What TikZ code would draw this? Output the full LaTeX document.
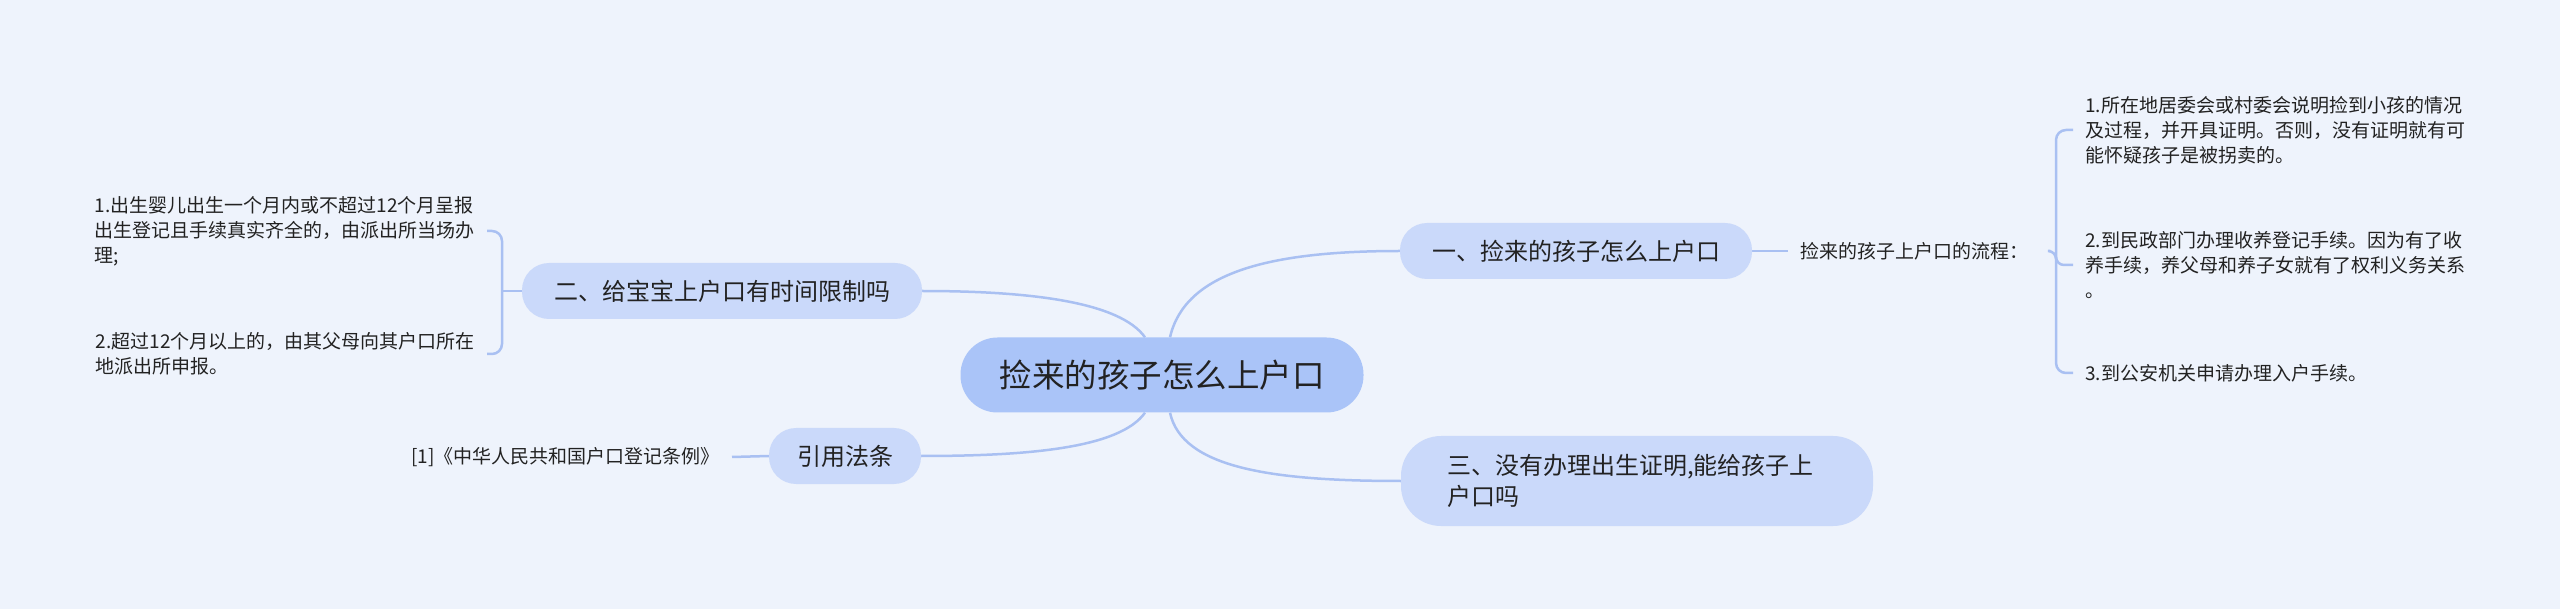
\documentclass[tikz,border=0pt]{standalone}
\usepackage{fontspec}
\setmainfont{Noto Sans CJK SC}
\usetikzlibrary{backgrounds}
\definecolor{bgc}{HTML}{EEF3FC}
\definecolor{linec}{HTML}{A9C0F2}
\definecolor{rootc}{HTML}{AAC4F8}
\definecolor{brc}{HTML}{CAD9FA}
\definecolor{txt}{HTML}{222222}
\begin{document}
\begin{tikzpicture}[x=1pt,y=-1pt,
  conn/.style={draw=linec, line width=2.5pt},
  rootbox/.style={fill=rootc, rounded corners=37pt, minimum width=403pt, minimum height=75pt, inner sep=0pt, text=txt, font=\fontsize{32.5pt}{40pt}\selectfont},
  branch/.style={fill=brc, rounded corners=27pt, minimum height=56pt, inner xsep=32pt, inner ysep=0pt, text=txt, font=\fontsize{24pt}{31pt}\selectfont},
  leaf/.style={inner xsep=12pt, inner ysep=0pt, align=left, text=txt, font=\fontsize{19pt}{25pt}\selectfont}
]
\useasboundingbox (0,0) rectangle (2560,609);
\begin{scope}[on background layer]
\fill[bgc] (0,0) rectangle (2560,609);
\end{scope}

% nodes
\node[rootbox] (root) at (1162,375) {捡来的孩子怎么上户口};
\node[branch] (b1) at (1576,251) {一、捡来的孩子怎么上户口};
\node[branch] (b2) at (722,291) {二、给宝宝上户口有时间限制吗};
\node[branch, rounded corners=40pt, minimum height=90pt, inner xsep=46pt, text width=380pt, align=left] (b3) at (1637,481) {三、没有办理出生证明,能给孩子上\\户口吗};
\node[branch, inner xsep=28pt] (b4) at (845,456) {引用法条};

\node[leaf, anchor=west] (flow) at (1788,251) {捡来的孩子上户口的流程：};
\node[leaf, anchor=west] (r1) at (2073,130) {1.所在地居委会或村委会说明捡到小孩的情况\\及过程，并开具证明。否则，没有证明就有可\\能怀疑孩子是被拐卖的。};
\node[leaf, anchor=west] (r2) at (2073,265) {2.到民政部门办理收养登记手续。因为有了收\\养手续，养父母和养子女就有了权利义务关系\\。};
\node[leaf, anchor=west] (r3) at (2073,373) {3.到公安机关申请办理入户手续。};

\node[leaf, anchor=east] (l1) at (487,231) {1.出生婴儿出生一个月内或不超过12个月呈报\\出生登记且手续真实齐全的，由派出所当场办\\理;};
\node[leaf, anchor=east] (l2) at (487,354) {2.超过12个月以上的，由其父母向其户口所在\\地派出所申报。};

\node[leaf, anchor=east] (cite) at (732,457) {[1]《中华人民共和国户口登记条例》};

\coordinate (lb) at (502,291);
\coordinate (rb) at (2056,251);

% connectors
\begin{scope}[on background layer]
\draw[conn] ([xshift=-17pt]root.north) .. controls +(-25,-35) and +(110,0) .. (b2.east);
\draw[conn] ([xshift=8pt]root.north) .. controls +(15,-65) and +(-130,0) .. (b1.west);
\draw[conn] ([xshift=8pt]root.south) .. controls +(12,55) and +(-130,0) .. (b3.west);
\draw[conn] ([xshift=-17pt]root.south) .. controls +(-25,35) and +(110,0) .. (b4.east);

\draw[conn] (b1.east) -- (flow.west);
\draw[conn, rounded corners=8pt] ([xshift=10pt]flow.east) -- (rb) -- (rb |- r2.west) -- (r2.west);
\draw[conn, rounded corners=10pt] (r1.west) -- (r1.west -| rb) -- (r3.west -| rb) -- (r3.west);

\draw[conn] (b2.west) -- (lb);
\draw[conn, rounded corners=10pt] (l1.east) -- (l1.east -| lb) -- (l2.east -| lb) -- (l2.east);

\draw[conn] (cite.east) -- (b4.west);
\end{scope}
\end{tikzpicture}
\end{document}
